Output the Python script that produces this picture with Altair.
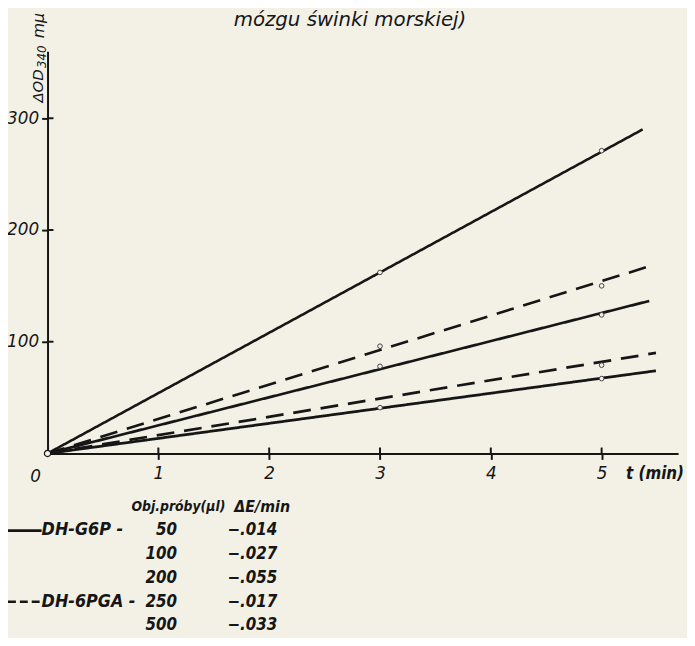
import altair as alt
import pandas as pd

# ---------------- data ----------------
series = ["G6P 200", "6PGA 500", "G6P 100", "6PGA 250", "G6P 50"]
line_end_t = [5.37, 5.43, 5.43, 5.49, 5.49]
line_end_v = [290, 167.5, 136.5, 90, 74]
line_kind = ["solid", "dashed", "solid", "dashed", "solid"]
line_width = [2.6, 2.8, 3.2, 3.0, 3.6]

point_series = ["G6P 200", "G6P 200", "6PGA 500", "6PGA 500", "G6P 100",
                "G6P 100", "6PGA 250", "G6P 50", "G6P 50"]
point_t = [3, 5, 3, 5, 3, 5, 5, 3, 5]
point_v = [162, 271, 96, 150, 78, 124, 79, 41, 67]

x_ticks = [1, 2, 3, 4, 5]
y_ticks = [100, 200, 300]

legend_vol = ["50", "100", "200", "250", "500"]
legend_rate = ["\u2212.014", "\u2212.027", "\u2212.055", "\u2212.017", "\u2212.033"]
legend_group = ["DH-G6P -", "", "", "DH-6PGA -", ""]

title_text = "mózgu świnki morskiej)"

# ---------------- layout ----------------
W, H = 638, 407
X_MAX, Y_MAX = 5.69, 360
INK = "#161616"
BG = "#f3f1e6"
FONT = "DejaVu Sans"
LEG = "Liberation Sans Narrow, DejaVu Sans Condensed, Liberation Sans, Arial, sans-serif"

rows = []
for s, te, ve, k in zip(series, line_end_t, line_end_v, line_kind):
    rows.append({"series": s, "t": 0.0, "v": 0.0, "kind": k})
    rows.append({"series": s, "t": te, "v": ve, "kind": k})
lines_df = pd.DataFrame(rows)
pts_df = pd.DataFrame({"series": point_series, "t": point_t, "v": point_v})

xs = alt.Scale(domain=[0, X_MAX], nice=False, zero=True)
ys = alt.Scale(domain=[0, Y_MAX], nice=False, zero=True)

lines = alt.Chart(lines_df).mark_line(color=INK, strokeCap="butt").encode(
    x=alt.X("t:Q", scale=xs,
            axis=alt.Axis(values=x_ticks, format="d", title=None, grid=False,
                          labelPadding=6)),
    y=alt.Y("v:Q", scale=ys,
            axis=alt.Axis(values=y_ticks, format="d", title=None, grid=False,
                          labelPadding=3)),
    detail="series:N",
    strokeDash=alt.StrokeDash("kind:N", scale=alt.Scale(domain=["solid", "dashed"],
                                                          range=[[1, 0], [18, 10]]),
                              legend=None),
    strokeWidth=alt.StrokeWidth("series:N", scale=alt.Scale(domain=series, range=line_width),
                                legend=None),
)

points = alt.Chart(pts_df).mark_point(filled=True, fill=BG, stroke="#444444",
                                      strokeWidth=1, size=22, opacity=1).encode(
    x="t:Q", y="v:Q")

origin = alt.Chart(pd.DataFrame({"t": [0], "v": [0]})).mark_point(
    filled=True, fill=BG, stroke=INK, strokeWidth=1.2, size=40, opacity=1).encode(
    x="t:Q", y="v:Q")

xtick_in = alt.Chart(pd.DataFrame({"t": x_ticks})).mark_rule(color=INK, strokeWidth=2).encode(
    x="t:Q", y=alt.value(H), y2=alt.value(H - 6))
ytick_in = alt.Chart(pd.DataFrame({"v": y_ticks})).mark_rule(color=INK, strokeWidth=2).encode(
    y="v:Q", x=alt.value(0), x2=alt.value(6))

one = pd.DataFrame({"a": [0]})


def label(txt, x, y, size=17, font=FONT, align="left", baseline="middle",
          angle=0, weight="normal"):
    kw = dict(text=txt, font=font, fontSize=size, fontStyle="italic",
              fontWeight=weight, color=INK, align=align, baseline=baseline)
    if angle:
        kw["angle"] = angle
    return alt.Chart(one).mark_text(**kw).encode(x=alt.value(x), y=alt.value(y))


# plot area starts at page (48, 48)
texts = [
    label(title_text, 306, -31, size=20, align="center"),
    label("0", -12, 431, size=17, align="center"),
    label("t (min)", 644, 428, size=17, font=LEG, weight="bold", align="right"),
    label("\u0394OD", -5, 52, size=15, baseline="alphabetic", angle=270),
    label("340", -2, 17, size=12, baseline="alphabetic", angle=270),
    label("m\u03bc", -4, -13, size=16, baseline="alphabetic", angle=270),
    label("Obj.próby(\u03bcl)", 85, 461, size=14, font=LEG, weight="bold"),
    label("\u0394E/min", 189, 461, size=16, font=LEG, weight="bold"),
]

leg_df = pd.DataFrame({"vol": legend_vol, "rate": legend_rate, "grp": legend_group,
                       "row": list(range(len(legend_vol)))})
leg_base = alt.Chart(leg_df).transform_calculate(py="485 + 24 * datum.row")
leg_style = dict(font=LEG, fontSize=17, fontStyle="italic", fontWeight="bold",
                 color=INK, baseline="middle")
leg_vol = leg_base.mark_text(align="right", **leg_style).encode(
    x=alt.value(131), y=alt.Y("py:Q", scale=None), text="vol:N")
leg_rate = leg_base.mark_text(align="left", **leg_style).encode(
    x=alt.value(182), y=alt.Y("py:Q", scale=None), text="rate:N")
leg_grp = leg_base.mark_text(align="left", font=LEG, fontSize=18, fontStyle="italic",
                             fontWeight="bold", color=INK, baseline="middle").encode(
    x=alt.value(-6), y=alt.Y("py:Q", scale=None), text="grp:N")

leg_solid = alt.Chart(one).mark_rule(color=INK, strokeWidth=2.8).encode(
    x=alt.value(-40), x2=alt.value(-6), y=alt.value(485))
leg_dash = alt.Chart(one).mark_rule(color=INK, strokeWidth=2.6, strokeDash=[8, 4]).encode(
    x=alt.value(-40), x2=alt.value(-8), y=alt.value(557))

chart = alt.layer(
    lines, points, origin, xtick_in, ytick_in, *texts,
    leg_vol, leg_rate, leg_grp, leg_solid, leg_dash
).properties(
    width=W, height=H,
    autosize=alt.AutoSizeParams(type="none"),
    padding={"left": 40, "top": 40, "right": 9, "bottom": 183},
    background=BG,
).configure_view(stroke=None).configure_axis(
    domainColor=INK, domainWidth=2, tickColor=INK, tickWidth=2, tickSize=6,
    labelFont=FONT, labelFontStyle="italic", labelFontSize=17, labelColor=INK,
    labelAngle=0,
)

chart.save("out.html", embed_options={"renderer": "svg", "actions": False})
